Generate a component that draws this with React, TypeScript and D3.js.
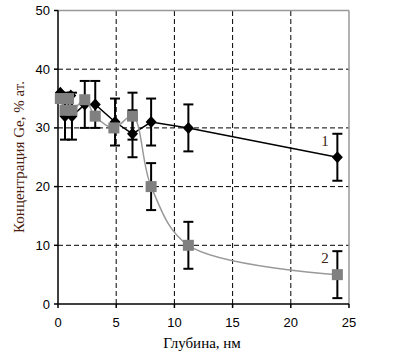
import React from "react";
import * as d3 from "d3";

const s1x = [0.2, 0.6, 1.1, 1.2, 2.3, 3.2, 4.9, 6.4, 8.0, 11.2, 24.0];
const s1y = [36, 32, 35.5, 32, 34, 34, 31, 29, 31, 30, 25];
const s1err = [0, 4, 0, 4, 4, 4, 4, 4, 4, 4, 4];

const s2x = [0.2, 0.6, 0.9, 1.2, 2.3, 3.2, 4.8, 6.4, 8.0, 11.2, 24.0];
const s2y = [35, 33, 35, 33, 34.8, 32, 30, 32, 20, 10, 5];
const s2err = [0, 0, 0, 0, 0, 0, 0, 4, 4, 4, 4];

const xTicks = [0, 5, 10, 15, 20, 25];
const yTicks = [0, 10, 20, 30, 40, 50];

const xTitle = "Глубина, нм";
const yTitle = "Концентрация Ge, % ат.";
const seriesLabels = ["1", "2"];

export default function App() {
  const x = d3.scaleLinear().domain([0, 25]).range([58, 349]);
  const y = d3.scaleLinear().domain([0, 50]).range([304, 10.5]);

  const line1 = d3
    .line<number>()
    .x((_, i) => x(s1x[i]))
    .y((d) => y(d));
  const line2 = d3
    .line<number>()
    .x((_, i) => x(s2x[i]))
    .y((d) => y(d))
    .curve(d3.curveCatmullRom.alpha(0.5));

  const sans = "'Liberation Sans', Arial, sans-serif";
  const serif = "'Liberation Serif', 'Times New Roman', serif";

  const errBars = (xs: number[], ys: number[], errs: number[], key: string) =>
    xs.map((xv, i) =>
      errs[i] > 0 ? (
        <g key={key + i} stroke="#000" strokeWidth={2}>
          <line x1={x(xv)} x2={x(xv)} y1={y(ys[i] + errs[i])} y2={y(ys[i] - errs[i])} />
          <line x1={x(xv) - 5} x2={x(xv) + 5} y1={y(ys[i] + errs[i])} y2={y(ys[i] + errs[i])} />
          <line x1={x(xv) - 5} x2={x(xv) + 5} y1={y(ys[i] - errs[i])} y2={y(ys[i] - errs[i])} />
        </g>
      ) : null
    );

  return (
    <svg
      width={393}
      height={358}
      style={{ position: "absolute", left: 0, top: 0, background: "#fff" }}
    >
      {xTicks.slice(1, -1).map((t) => (
        <line key={"gx" + t} x1={x(t)} x2={x(t)} y1={y(0)} y2={y(50)} stroke="#000" strokeWidth={1} strokeDasharray="5,3" />
      ))}
      {yTicks.slice(1, -1).map((t) => (
        <line key={"gy" + t} x1={x(0)} x2={x(25)} y1={y(t)} y2={y(t)} stroke="#000" strokeWidth={1} strokeDasharray="5,3" />
      ))}
      <line x1={x(0)} x2={x(25)} y1={y(50)} y2={y(50)} stroke="#999" strokeWidth={1.5} />
      <line x1={x(25)} x2={x(25)} y1={y(50)} y2={y(0)} stroke="#999" strokeWidth={1.5} />
      <line x1={x(0)} x2={x(0)} y1={y(50)} y2={y(0)} stroke="#000" strokeWidth={1.5} />
      <line x1={x(0)} x2={x(25)} y1={y(0)} y2={y(0)} stroke="#000" strokeWidth={1.5} />
      {xTicks.map((t) => (
        <g key={"tx" + t}>
          <line x1={x(t)} x2={x(t)} y1={y(0)} y2={y(0) + 4} stroke="#000" strokeWidth={1.5} />
          <text x={x(t)} y={327} textAnchor="middle" fontFamily={sans} fontSize={13} fill="#000">
            {t}
          </text>
        </g>
      ))}
      {yTicks.map((t) => (
        <g key={"ty" + t}>
          <line x1={x(0) - 4} x2={x(0)} y1={y(t)} y2={y(t)} stroke="#000" strokeWidth={1.5} />
          <text x={50} y={y(t) + 4.5} textAnchor="end" fontFamily={sans} fontSize={13} fill="#000">
            {t}
          </text>
        </g>
      ))}
      <path d={line1(s1y) || ""} fill="none" stroke="#000" strokeWidth={1.5} />
      {s1x.map((xv, i) => (
        <path
          key={"d" + i}
          d={`M${x(xv)},${y(s1y[i]) - 6}L${x(xv) + 5.5},${y(s1y[i])}L${x(xv)},${y(s1y[i]) + 6}L${x(xv) - 5.5},${y(s1y[i])}Z`}
          fill="#000"
        />
      ))}
      <path d={line2(s2y) || ""} fill="none" stroke="#999" strokeWidth={1.5} />
      {errBars(s1x, s1y, s1err, "e1")}
      {errBars(s2x, s2y, s2err, "e2")}
      {s2x.map((xv, i) => (
        <rect key={"s" + i} x={x(xv) - 5.5} y={y(s2y[i]) - 5.5} width={11} height={11} fill="#808080" />
      ))}
      <text x={325} y={146} textAnchor="middle" fontFamily={serif} fontSize={15} fill="#3a2210">
        {seriesLabels[0]}
      </text>
      <text x={325} y={263} textAnchor="middle" fontFamily={serif} fontSize={15} fill="#3a2210">
        {seriesLabels[1]}
      </text>
      <text x={202} y={348} textAnchor="middle" fontFamily={serif} fontSize={15} fill="#000">
        {xTitle}
      </text>
      <text
        transform={`translate(24,${157}) rotate(-90)`}
        textAnchor="middle"
        fontFamily={serif}
        fontSize={15}
        fill="#4a1e10"
      >
        {yTitle}
      </text>
    </svg>
  );
}
